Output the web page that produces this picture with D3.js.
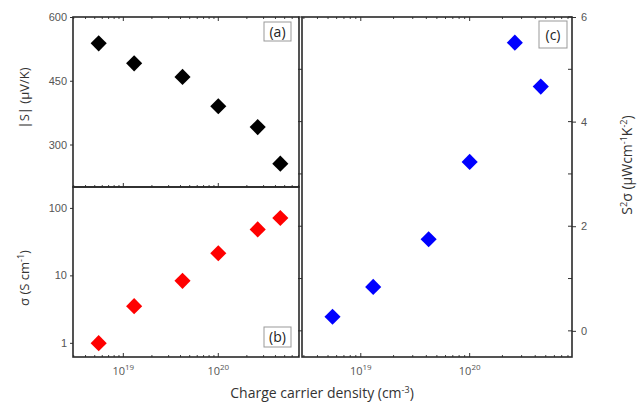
<!DOCTYPE html>
<html>
<head>
<meta charset="utf-8">
<script src="https://d3js.org/d3.v7.min.js"></script>
<style>
	body { margin: 0; background: #fff; }
	svg { font-family: "Open Sans", "Liberation Sans", sans-serif; }
	.frame { fill: none; stroke: #2a2a2a; stroke-width: 1.6; }
	.tick line { stroke: #333; }
	.tick text { fill: #555; font-size: 11px; }
	.domain { display: none; }
	.lab { fill: none; stroke: #999; stroke-width: 1; }
</style>
</head>
<body>
<div class="box"></div>
<script>
// charge carrier density (cm^-3)
var density = [5.5e18, 1.3e19, 4.2e19, 1.0e20, 2.6e20, 4.5e20];
// |S| (uV/K)
var seebeck = [538, 491, 459, 390, 341, 255];
// sigma (S/cm)
var conductivity = [0.99, 3.5, 8.3, 21.3, 48, 71];
// S^2 sigma (uW cm^-1 K^-2)
var powerFactor = [0.27, 0.84, 1.75, 3.23, 5.51, 4.67];

var seebeckTicks = [300, 450, 600];
var condTicks = [1, 10, 100];
var pfTicks = [0, 2, 4, 6];
var pfMinor = [1, 3, 5];
var xMajor = [1e19, 1e20];

var width = 639, height = 406;

var svg = d3.select('.box')
	.append('svg')
	.attr('width', width)
	.attr('height', height);

var pa = {x0: 73, x1: 299, y0: 17, y1: 187};
var pb = {x0: 73, x1: 299, y0: 187, y1: 357};
var pc = {x0: 302, x1: 572, y0: 17, y1: 357};

var xAB = d3.scaleLog().domain([Math.pow(10, 18.47), Math.pow(10, 20.85)]).range([pa.x0, pa.x1]);
var xC = d3.scaleLog().domain([Math.pow(10, 18.46), Math.pow(10, 20.94)]).range([pc.x0, pc.x1]);
var yA = d3.scaleLinear().domain([200, 600]).range([pa.y1, pa.y0]);
var yB = d3.scaleLog().domain([Math.pow(10, -0.21), Math.pow(10, 2.31)]).range([pb.y1, pb.y0]);
var yC = d3.scaleLinear().domain([-0.5, 6]).range([pc.y1, pc.y0]);

function minorTicks(scale) {
	return scale.ticks().filter(function(t) {
		return xMajor.indexOf(t) === -1;
	});
}

function xTicks(scale, y, dir, labels) {
	var g = svg.append('g');
	g.selectAll('line.major')
		.data(xMajor)
		.enter()
		.append('line')
			.attr('x1', function(d) { return scale(d); })
			.attr('x2', function(d) { return scale(d); })
			.attr('y1', y)
			.attr('y2', y + dir * 4)
			.attr('stroke', '#333');
	g.selectAll('line.minor')
		.data(minorTicks(scale))
		.enter()
		.append('line')
			.attr('x1', function(d) { return scale(d); })
			.attr('x2', function(d) { return scale(d); })
			.attr('y1', y)
			.attr('y2', y + dir * 2)
			.attr('stroke', '#444');
	if (labels) {
		var t = g.selectAll('text')
			.data(xMajor)
			.enter()
			.append('text')
				.attr('x', function(d) { return scale(d); })
				.attr('y', y + 18)
				.attr('text-anchor', 'middle')
				.style('font-size', '11px')
				.style('fill', '#555');
		t.append('tspan').text('10');
		t.append('tspan')
			.attr('dy', -5)
			.style('font-size', '8px')
			.text(function(d) { return Math.round(Math.log10(d)); });
	}
}

// y axes
svg.append('g')
	.attr('transform', 'translate(' + pa.x0 + ',0)')
	.call(d3.axisLeft(yA).tickValues(seebeckTicks).tickSize(3).tickPadding(3));

svg.append('g')
	.attr('transform', 'translate(' + pb.x0 + ',0)')
	.call(d3.axisLeft(yB).tickValues(condTicks).tickFormat(d3.format('d')).tickSize(3).tickPadding(3));

svg.append('g')
	.attr('transform', 'translate(' + pc.x1 + ',0)')
	.call(d3.axisRight(yC).tickValues(pfTicks).tickFormat(d3.format('d')).tickSize(4).tickPadding(5));

// minor y ticks on panel c (both sides)
[pc.x0, pc.x1].forEach(function(x) {
	svg.selectAll(null)
		.data(pfTicks.concat(pfMinor))
		.enter()
		.append('line')
			.attr('x1', x - 4)
			.attr('x2', x)
			.attr('y1', function(d) { return yC(d); })
			.attr('y2', function(d) { return yC(d); })
			.attr('stroke', '#333');
});

// x ticks
xTicks(xAB, pa.y0, 1, false);
xTicks(xAB, pa.y1, -1, false);
xTicks(xAB, pb.y1, -1, true);
xTicks(xC, pc.y0, 1, false);
xTicks(xC, pc.y1, -1, true);

// frames
[pa, pb, pc].forEach(function(p) {
	svg.append('rect')
		.attr('class', 'frame')
		.attr('x', p.x0)
		.attr('y', p.y0)
		.attr('width', p.x1 - p.x0)
		.attr('height', p.y1 - p.y0);
});

// panel labels
function panelLabel(x, y, w, h, txt) {
	svg.append('rect')
		.attr('class', 'lab')
		.attr('x', x).attr('y', y)
		.attr('width', w).attr('height', h);
	svg.append('text')
		.attr('x', x + w / 2)
		.attr('y', y + h / 2 + 5)
		.attr('text-anchor', 'middle')
		.style('font-size', '14px')
		.style('fill', '#222')
		.text(txt);
}
panelLabel(264, 22, 27, 19, '(a)');
panelLabel(264, 327, 27, 20, '(b)');
panelLabel(539, 21, 28, 27, '(c)');

// markers
var diamond = d3.symbol().type(d3.symbolSquare).size(130);

function drawPoints(xs, ys, vals, color) {
	svg.selectAll(null)
		.data(vals)
		.enter()
		.append('path')
			.attr('d', diamond)
			.attr('transform', function(d, i) {
				return 'translate(' + xs(density[i]) + ',' + ys(d) + ') rotate(45)';
			})
			.style('fill', color);
}
drawPoints(xAB, yA, seebeck, '#000');
drawPoints(xAB, yB, conductivity, '#ff0000');
drawPoints(xC, yC, powerFactor, '#0000ff');

// axis titles
svg.append('text')
	.attr('transform', 'translate(29,98) rotate(-90)')
	.attr('text-anchor', 'middle')
	.style('font-size', '13px')
	.style('fill', '#333')
	.text('|S| (\u03bcV/K)');

var t2 = svg.append('text')
	.attr('transform', 'translate(29,278) rotate(-90)')
	.attr('text-anchor', 'middle')
	.style('font-size', '13px')
	.style('fill', '#333');
t2.append('tspan').text('\u03c3 (S cm');
t2.append('tspan').attr('dy', -5).style('font-size', '9px').text('-1');
t2.append('tspan').attr('dy', 5).text(')');

var t3 = svg.append('text')
	.attr('transform', 'translate(632,165) rotate(-90)')
	.attr('text-anchor', 'middle')
	.style('font-size', '14px')
	.style('fill', '#333');
t3.append('tspan').text('S');
t3.append('tspan').attr('dy', -5).style('font-size', '9px').text('2');
t3.append('tspan').attr('dy', 5).text('\u03c3 (\u03bcWcm');
t3.append('tspan').attr('dy', -5).style('font-size', '9px').text('-1');
t3.append('tspan').attr('dy', 5).text('K');
t3.append('tspan').attr('dy', -5).style('font-size', '9px').text('-2');
t3.append('tspan').attr('dy', 5).text(')');

var t4 = svg.append('text')
	.attr('x', 322)
	.attr('y', 398)
	.attr('text-anchor', 'middle')
	.style('font-size', '14px')
	.style('fill', '#333');
t4.append('tspan').text('Charge carrier density (cm');
t4.append('tspan').attr('dy', -5).style('font-size', '9px').text('-3');
t4.append('tspan').attr('dy', 5).text(')');
</script>
</body>
</html>
